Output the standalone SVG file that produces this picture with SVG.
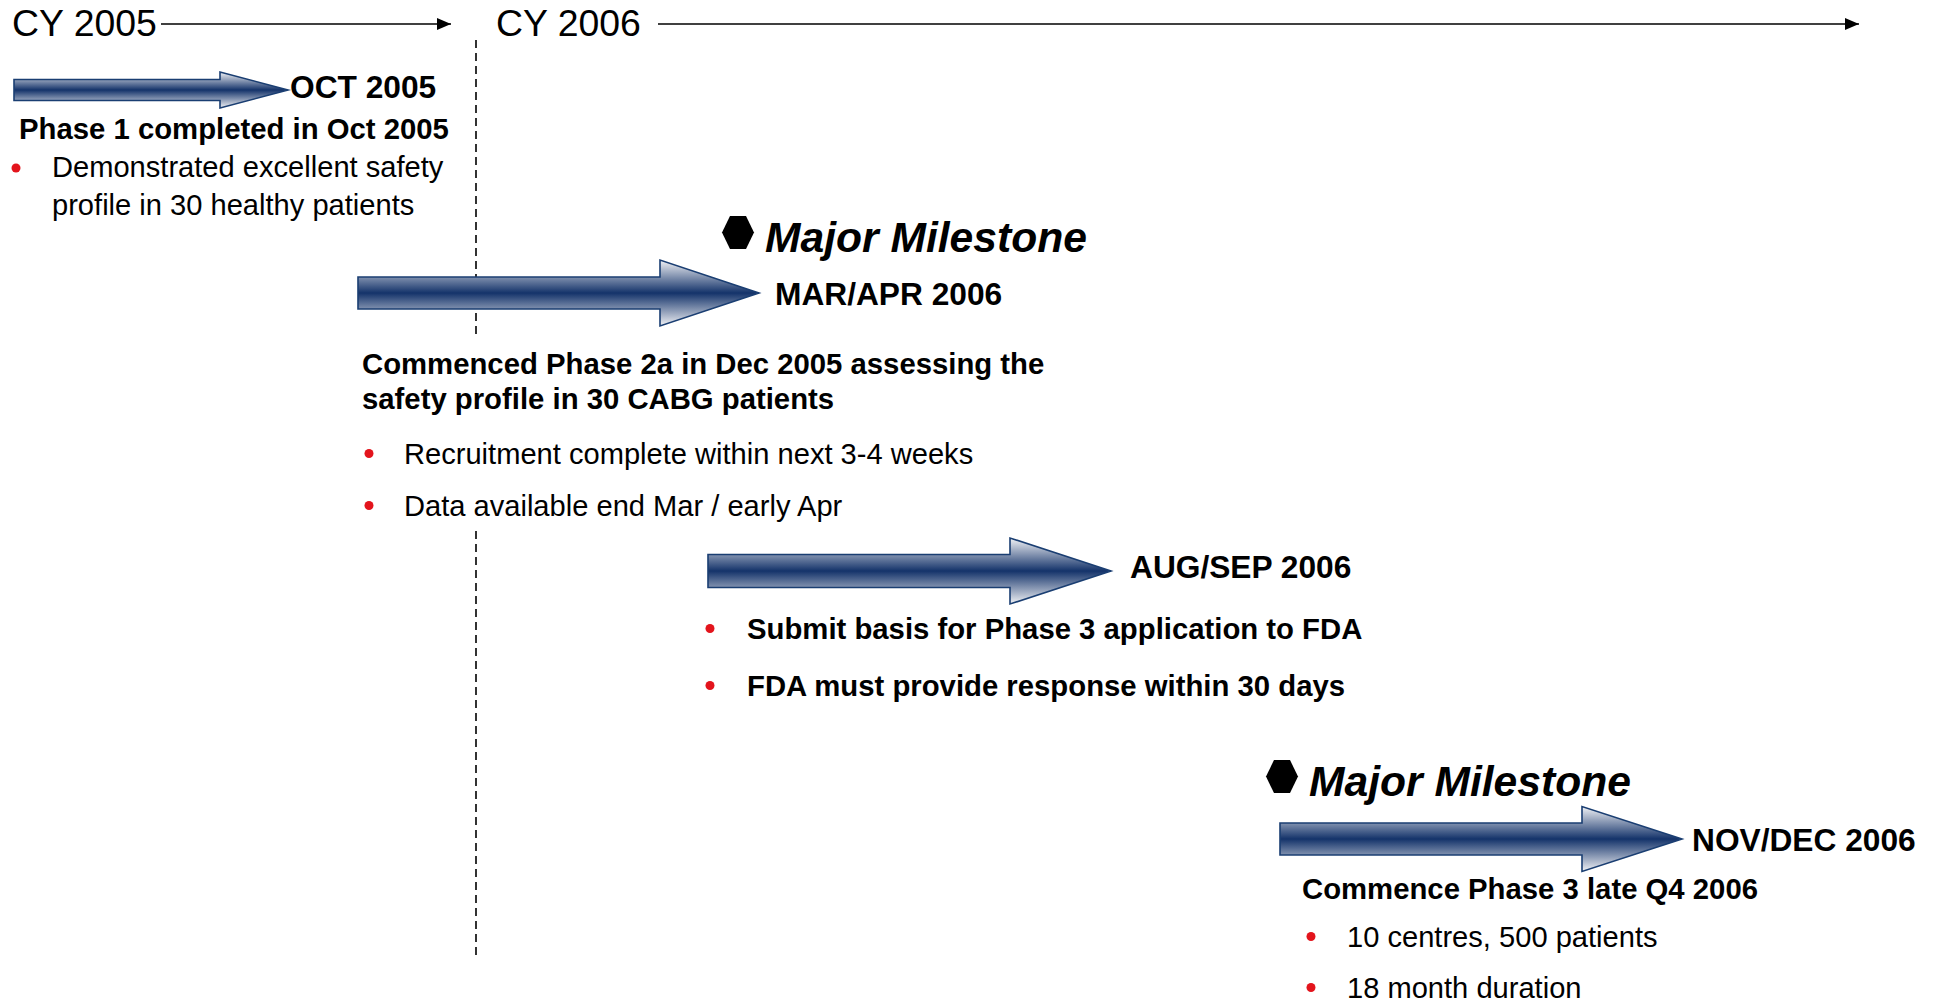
<svg xmlns="http://www.w3.org/2000/svg" width="1936" height="1001" viewBox="0 0 1936 1001">
<style>
text{font-family:"Liberation Sans",Arial,sans-serif;fill:#000}
.cy{font-size:37.4px}
.dt{font-size:31.7px;font-weight:bold}
.hd{font-size:29.3px;font-weight:bold}
.bd{font-size:29.1px}
.mm{font-size:42.6px;font-weight:bold;font-style:italic}
.arr{fill:url(#g);stroke:#1a3e72;stroke-width:1.6}
.dot{fill:#e3141c}
.hex{fill:#000}
.ax{stroke:#000;stroke-width:1.6;fill:none}
.dash{stroke:#000;stroke-width:1.6;stroke-dasharray:8 5;fill:none}
</style>
<defs>
<linearGradient id="g" x1="0" y1="0" x2="0" y2="1">
<stop offset="0" stop-color="#f2f3f6"/>
<stop offset="0.5" stop-color="#14336a"/>
<stop offset="1" stop-color="#f2f3f6"/>
</linearGradient>
<marker id="ah" markerWidth="14" markerHeight="12" refX="14" refY="6" orient="auto" markerUnits="userSpaceOnUse">
<path d="M0,0 L14,6 L0,12 Z" fill="#000"/>
</marker>
</defs>
<rect width="1936" height="1001" fill="#fff"/>
<g id="connectors">
<line class="ax" x1="161" y1="24" x2="451" y2="24" marker-end="url(#ah)"/>
<line class="ax" x1="658" y1="24" x2="1859" y2="24" marker-end="url(#ah)"/>
<line class="dash" x1="476" y1="40" x2="476" y2="336"/>
<line class="dash" x1="476" y1="531" x2="476" y2="957"/>
</g>
<g id="axis-labels">
<text class="cy" x="12" y="36">CY 2005</text>
<text class="cy" x="496" y="36">CY 2006</text>
</g>
<g id="phase1">
<path class="arr" d="M14,79.5 H220 V72 L288,90 L220,108 V100.5 H14 Z"/>
<text class="dt" x="290" y="97.5">OCT 2005</text>
<text class="hd" x="19" y="138.5">Phase 1 completed in Oct 2005</text>
<circle class="dot" cx="16" cy="168" r="4.5"/>
<text class="bd" x="52" y="177">Demonstrated excellent safety</text>
<text class="bd" x="52" y="214.5">profile in 30 healthy patients</text>
</g>
<g id="milestone1">
<path class="hex" d="M722,232.5 L730,216 L746,216 L754,232.5 L746,249 L730,249 Z"/>
<text class="mm" x="765" y="252">Major Milestone</text>
</g>
<g id="phase2a">
<path class="arr" d="M358,277 H660 V260 L759,293 L660,326 V309 H358 Z"/>
<text class="dt" x="775" y="304.5">MAR/APR 2006</text>
<text class="hd" x="362" y="374">Commenced Phase 2a in Dec 2005 assessing the</text>
<text class="hd" x="362" y="409">safety profile in 30 CABG patients</text>
<circle class="dot" cx="369" cy="453.5" r="4.5"/>
<text class="bd" x="404" y="463.5">Recruitment complete within next 3-4 weeks</text>
<circle class="dot" cx="369" cy="505.5" r="4.5"/>
<text class="bd" x="404" y="515.5">Data available end Mar / early Apr</text>
</g>
<g id="fda">
<path class="arr" d="M708,554.5 H1010 V538 L1111,571 L1010,604 V587.5 H708 Z"/>
<text class="dt" x="1130" y="577.5">AUG/SEP 2006</text>
<circle class="dot" cx="710" cy="628.5" r="4.5"/>
<text class="hd" x="747" y="638.5">Submit basis for Phase 3 application to FDA</text>
<circle class="dot" cx="710" cy="685.5" r="4.5"/>
<text class="hd" x="747" y="695.5">FDA must provide response within 30 days</text>
</g>
<g id="milestone2">
<path class="hex" d="M1266,776.5 L1274,760 L1290,760 L1298,776.5 L1290,793 L1274,793 Z"/>
<text class="mm" x="1309" y="796">Major Milestone</text>
</g>
<g id="phase3">
<path class="arr" d="M1280,823 H1582 V806.5 L1682,839 L1582,871.5 V855 H1280 Z"/>
<text class="dt" x="1692" y="850.5">NOV/DEC 2006</text>
<text class="hd" x="1302" y="898.5">Commence Phase 3 late Q4 2006</text>
<circle class="dot" cx="1311" cy="936.5" r="4.5"/>
<text class="bd" x="1347" y="946.5">10 centres, 500 patients</text>
<circle class="dot" cx="1311" cy="987.5" r="4.5"/>
<text class="bd" x="1347" y="997.5">18 month duration</text>
</g>
</svg>
